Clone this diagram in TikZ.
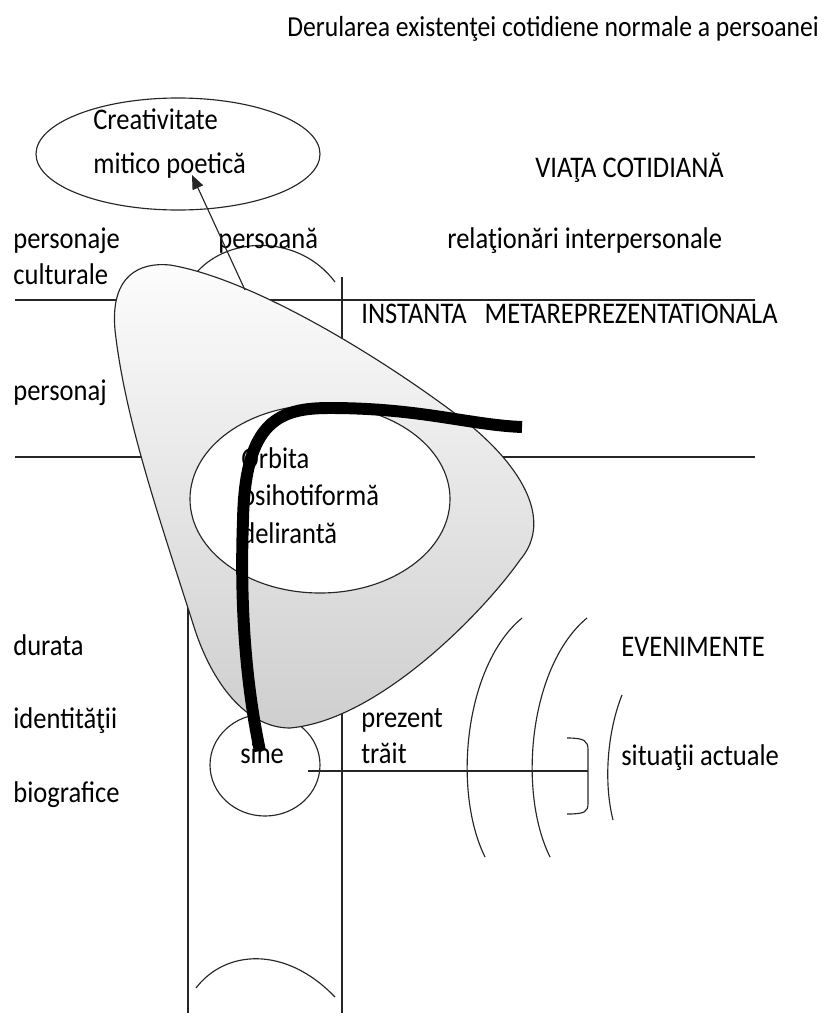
\documentclass[tikz,border=0pt]{standalone}
\usepackage{fontspec}
\setmainfont{Carlito}
\usepackage{tikz}
\usetikzlibrary{arrows.meta}

\begin{document}
\begin{tikzpicture}[x=0.02cm,y=-0.02cm,
        lbl/.style={inner sep=0pt,anchor=base west,yscale=1.13,font=\fontsize{15.1}{18}\selectfont},
        lin/.style={black!85,line width=0.65pt}]
        \useasboundingbox (0,0) rectangle (825,1017);

        % axe
        \draw[lin] (15,300)--(755,300);
        \draw[lin] (15,457)--(755,457);
        \draw[lin] (188,560)--(188,1013);
        \draw[lin] (342,277)--(342,1013);

        \draw[lin] (197,272) .. controls (230,235) and (300,235) .. (335,282);
        \draw[lin] (265,765) ellipse (55 and 51);
        \draw[lin] (196,988) .. controls (225,950) and (285,945) .. (335,997);

        % triunghiul rotunjit
        \shadedraw[lin,top color=gray!2,bottom color=gray!38]
        (115,330) .. controls (110,275) and (140,262) .. (170,265)
        .. controls (260,280) and (400,370) .. (470,425)
        .. controls (530,475) and (550,525) .. (520,560)
        .. controls (485,610) and (380,720) .. (290,728)
        .. controls (250,728) and (215,690) .. (195,630)
        .. controls (160,520) and (125,420) .. (115,330) -- cycle;
        \filldraw[lin,fill=white] (320,499) ellipse (130 and 94);
        \draw[lin] (178,154) ellipse (142 and 56);

        % evenimente
        \draw[lin] (522,618) .. controls (465,665) and (452,790) .. (485,857);
        \draw[lin] (587,618) .. controls (530,665) and (517,790) .. (550,857);
        \draw[lin] (622,695) .. controls (608,730) and (603,780) .. (613,820);
        \draw[lin] (567,738) .. controls (585,738) and (588,741) .. (588,750)
        -- (588,803) .. controls (588,812) and (585,814) .. (567,814);

        \node[lbl,font=\fontsize{14.6}{18}\selectfont] (titlu) at (287,37) {Derularea existenţei cotidiene normale a persoanei};
        \node[lbl] (creat) at (93,130) {Creativitate};
        \node[lbl] (mitic) at (93,173) {mitico poetică};
        \node[lbl] (viata) at (535,177) {VIAŢA COTIDIANĂ};
        \node[lbl] (pcult) at (13,248) {personaje};
        \node[lbl] (cult) at (13,284) {culturale};
        \node[lbl] (pers) at (218,248) {persoană};
        \node[lbl] (relat) at (447,248) {relaţionări interpersonale};
        \node[lbl] (inst) at (361,323) {INSTANTA~~~METAREPREZENTATIONALA};
        \node[lbl] (persj) at (13,400) {personaj};
        \node[lbl] (orb1) at (241,468) {Orbita};
        \node[lbl] (orb2) at (241,505) {psihotiformă};
        \node[lbl] (orb3) at (241,543) {delirantă};
        \node[lbl] (durata) at (13,655) {durata};
        \node[lbl] (ident) at (13,728) {identităţii};
        \node[lbl] (biogr) at (13,802) {biografice};
        \node[lbl] (even) at (621,656) {EVENIMENTE};
        \node[lbl] (prez) at (361,727) {prezent};
        \node[lbl] (trait) at (361,763) {trăit};
        \node[lbl] (sine) at (240,763) {sine};
        \node[lbl] (situa) at (621,765) {situaţii actuale};

        \coordinate (coada) at (245,290);
        \coordinate (varf) at (192,175);
        \draw[lin,-{Triangle[length=8pt,width=6.5pt]}] (coada) -- (varf);

        \coordinate (sineR) at (308,771);
        \coordinate (acol) at (588,771);
        \draw[lin] (sineR) -- (acol);

        % orbita delirantă
        \draw[line width=6.8pt] (260,751) .. controls (245,680) and (240,600) .. (243,520)
        .. controls (245,420) and (280,408) .. (330,408)
        .. controls (420,408) and (470,425) .. (522,427);
    \end{tikzpicture}
\end{document}
